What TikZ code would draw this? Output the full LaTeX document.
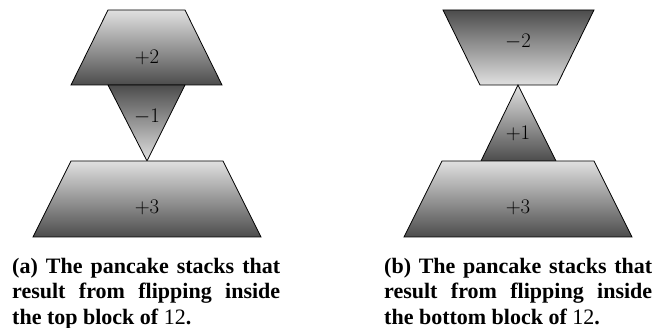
\documentclass[tikz,border=0pt]{standalone}
\usepackage{fontspec}
\newfontfamily\capfont{Liberation Serif}
\newcommand{\capline}[1]{\makebox[268pt][s]{#1}}
\begin{document}
\begin{tikzpicture}[x=1pt,y=-1pt,
  posshape/.style={draw=black,line width=0.8pt,line join=miter,top color=black!12,bottom color=black!70},
  negshape/.style={draw=black,line width=0.8pt,line join=miter,top color=black!70,bottom color=black!12},
  lbl/.style={font=\fontsize{21}{24}\selectfont,inner sep=0pt},
  captext/.style={anchor=north west,inner sep=0pt,align=left,
    font=\capfont\bfseries\fontsize{22}{25.3}\selectfont}]
\useasboundingbox (0,0) rectangle (654,328);
% (a)
\path[posshape] (108,10) -- (185,10) -- (222,85) -- (71,85) -- cycle;
\path[negshape] (108,85) -- (185,85) -- (147,161) -- cycle;
\path[posshape] (71,161) -- (223,161) -- (261,237) -- (33,237) -- cycle;
\node[lbl] (a2) at (147,57) {$+2$};
\node[lbl] (a1) at (147,117) {$-1$};
\node[lbl] (a3) at (147,207) {$+3$};
% (b)
\path[negshape] (443,10) -- (594,10) -- (557,85) -- (480,85) -- cycle;
\path[posshape] (518,85) -- (556,161) -- (481,161) -- cycle;
\path[posshape] (442,161) -- (594,161) -- (632,237) -- (404,237) -- cycle;
\node[lbl] (b2) at (518,42) {$-2$};
\node[lbl] (b1) at (518,133) {$+1$};
\node[lbl] (b3) at (518,207) {$+3$};
% captions
\node[captext] (capa) at (12,258) {\capline{(a) The pancake stacks that}\\
  \capline{result from flipping inside}\\
  the top block of {\mdseries 12}.};
\node[captext] (capb) at (384,258) {\capline{(b) The pancake stacks that}\\
  \capline{result from flipping inside}\\
  the bottom block of {\mdseries 12}.};
\end{tikzpicture}
\end{document}
